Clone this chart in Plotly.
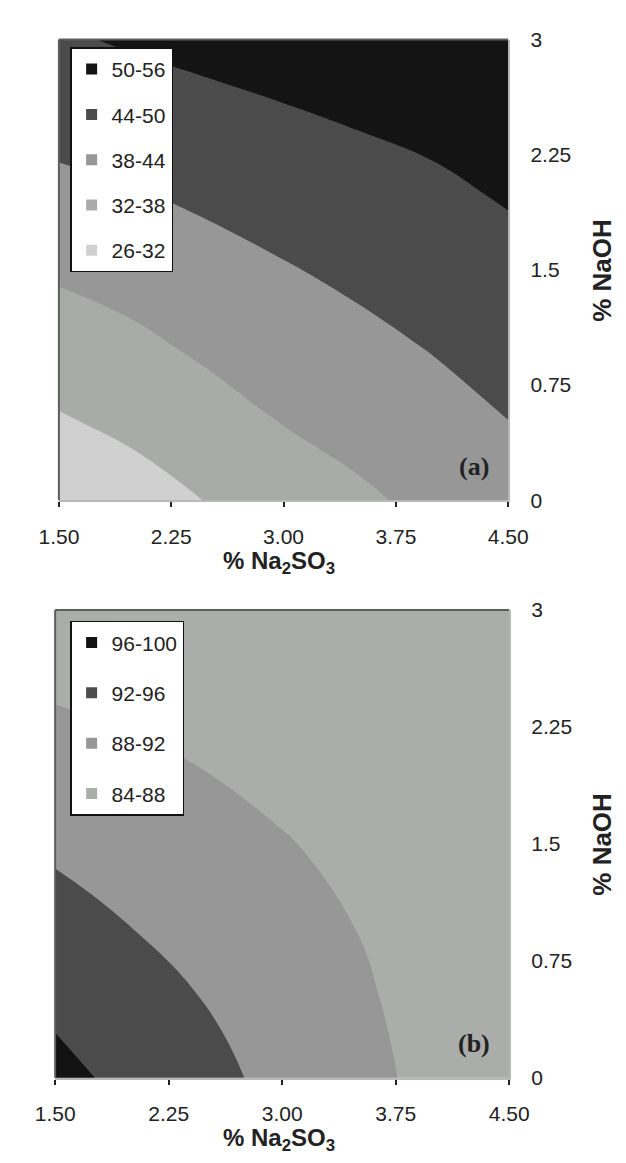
import plotly.graph_objects as go

# ---------------- data ----------------
na2so3 = [1.5, 2.0, 2.5, 3.0, 3.5, 4.0, 4.5]      # x grid (% Na2SO3)
naoh = [0, 0.5, 1.0, 1.5, 2.0, 2.5, 3.0]          # y grid (% NaOH)
x_tickvals = [1.5, 2.25, 3.0, 3.75, 4.5]
x_ticktext = ["1.50", "2.25", "3.00", "3.75", "4.50"]
y_tickvals = [0, 0.75, 1.5, 2.25, 3]
y_ticktext = ["0", "0.75", "1.5", "2.25", "3"]

# panel (a): response (rows = NaOH, cols = Na2SO3)
z_a = [
    [27.9, 29.7, 32.2, 34.8, 37.1, 39.3, 41.6],
    [31.4, 33.2, 35.7, 38.1, 39.8, 41.8, 43.9],
    [35.1, 36.8, 39.0, 40.8, 42.5, 44.3, 46.1],
    [38.8, 40.3, 42.0, 43.6, 45.2, 46.7, 48.3],
    [42.6, 43.7, 45.1, 46.6, 47.8, 49.0, 50.5],
    [46.1, 47.2, 48.4, 49.5, 50.5, 51.4, 52.4],
    [49.4, 50.6, 51.6, 52.4, 53.1, 53.9, 54.7],
]
levels_a = [26, 32, 38, 44, 50, 56]
labels_a = ["26-32", "32-38", "38-44", "44-50", "50-56"]
colors_a = ["#d0d0d0", "#a9aba9", "#979797", "#4b4b4b", "#141414"]

# panel (b)
z_b = [
    [97.1, 95.0, 93.0, 91.0, 89.0, 87.1, 85.5],
    [95.2, 93.4, 91.9, 90.1, 88.5, 86.8, 85.3],
    [93.3, 91.9, 90.6, 89.2, 87.9, 86.4, 85.0],
    [91.4, 90.3, 89.2, 88.2, 87.2, 85.9, 84.7],
    [89.5, 88.7, 87.9, 87.1, 86.4, 85.3, 84.4],
    [87.6, 87.1, 86.5, 85.9, 85.5, 84.8, 84.2],
    [85.7, 85.4, 85.0, 85.0, 84.7, 84.3, 84.05],
]
levels_b = [84, 88, 92, 96, 100]
labels_b = ["84-88", "88-92", "92-96", "96-100"]
colors_b = ["#abadab", "#979797", "#4b4b4b", "#121212"]

panel_labels = ["(a)", "(b)"]
x_title = "<b>% Na<sub>2</sub>SO<sub>3</sub></b>"
y_title = "<b>% NaOH</b>"

W, H = 626, 1163
FONT = "Arial, Liberation Sans, sans-serif"

# pixel geometry of the two panels (left, right, top, bottom)
panels = [(33, 513, 20, 490), (29, 514, 602, 1079)]


def band_scale(colors):
    regs = [colors[0]] + colors + [colors[-1]]
    n = len(regs) - 1
    return [[i / n, c] for i, c in enumerate(regs)]


fig = go.Figure()

datasets = [
    (z_a, levels_a, labels_a, colors_a, "x", "y", "legend"),
    (z_b, levels_b, labels_b, colors_b, "x2", "y2", "legend2"),
]

for z, lv, lab, col, xa, ya, lg in datasets:
    fig.add_trace(go.Contour(
        x=na2so3, y=naoh, z=z,
        autocontour=False,
        contours=dict(start=lv[0], end=lv[-1], size=lv[1] - lv[0],
                      coloring="fill", showlines=False),
        colorscale=band_scale(col),
        showscale=False,
        line=dict(width=0, smoothing=1.3),
        hoverinfo="skip",
        showlegend=False,
        xaxis=xa, yaxis=ya,
    ))
    for name, c in reversed(list(zip(lab, col))):
        fig.add_trace(go.Scatter(
            x=[None], y=[None], mode="markers",
            marker=dict(symbol="square", size=11, color=c),
            name=name, legend=lg, legendgroup=name,
            xaxis=xa, yaxis=ya,
        ))

layout = dict(
    width=W, height=H,
    margin=dict(l=0, r=0, t=0, b=0),
    paper_bgcolor="white", plot_bgcolor="white",
    font=dict(family=FONT, color="#222", size=20),
    showlegend=True,
)

shapes = []
annotations = []
for i, (l, r, t, b) in enumerate(panels):
    sfx = "" if i == 0 else str(i + 1)
    tick_sfx = str(i + 3)          # tick-only overlay axis
    xd = [l / W, r / W]
    yd = [1 - b / H, 1 - t / H]
    layout["xaxis" + sfx] = dict(
        domain=xd, range=[1.5, 4.5], anchor="y" + sfx,
        tickvals=x_tickvals, ticktext=x_ticktext,
        ticks="outside", ticklen=5, tickwidth=1.5, tickcolor="#222",
        ticklabelstandoff=11,
        showline=True, linecolor="#b8b8b8", linewidth=2,
        showgrid=False, zeroline=False,
        tickfont=dict(size=21, family=FONT, color="#222"),
    )
    # label axis: invisible long ticks push the labels away from the frame
    layout["yaxis" + sfx] = dict(
        domain=yd, range=[0, 3], anchor="x" + sfx, side="right",
        tickvals=y_tickvals, ticktext=y_ticktext,
        ticks="outside", ticklen=16, tickwidth=1, tickcolor="rgba(0,0,0,0)",
        showline=True, linecolor="#b8b8b8", linewidth=2,
        showgrid=False, zeroline=False,
        tickfont=dict(size=21, family=FONT, color="#222"),
    )
    # visible short tick marks
    layout["yaxis" + tick_sfx] = dict(
        overlaying="y" + sfx, anchor="x" + sfx, side="right", range=[0, 3],
        tickvals=y_tickvals, showticklabels=False,
        ticks="outside", ticklen=5, tickwidth=1.5, tickcolor="#222",
        showline=False, showgrid=False, zeroline=False,
    )
    xr = "x" + sfx + " domain"
    yr = "y" + sfx + " domain"
    shapes.append(dict(type="line", xref=xr, yref=yr, x0=0, x1=1, y0=1, y1=1,
                       line=dict(color="#5e5e5e", width=2)))
    shapes.append(dict(type="line", xref=xr, yref=yr, x0=0, x1=0, y0=0, y1=1,
                       line=dict(color="#5e5e5e", width=2)))
    # panel letter
    annotations.append(dict(text="<b>" + panel_labels[i] + "</b>",
                            xref="paper", yref="paper",
                            x=476 / W, y=1 - (b - 35) / H,
                            xanchor="center", yanchor="middle", showarrow=False,
                            font=dict(family="Liberation Serif, Times New Roman, serif",
                                      size=26, color="#222")))
    # x title
    annotations.append(dict(text=x_title, xref="paper", yref="paper",
                            x=268 / W, y=1 - (b + 63) / H,
                            xanchor="center", yanchor="middle", showarrow=False,
                            font=dict(family=FONT, size=24, color="#222")))
    # y title
    annotations.append(dict(text=y_title, xref="paper", yref="paper",
                            x=613 / W, y=1 - ((t + b) / 2) / H,
                            xanchor="center", yanchor="middle", showarrow=False,
                            textangle=-90,
                            font=dict(family=FONT, size=26, color="#222")))

legend_common = dict(
    bgcolor="white", bordercolor="#111", borderwidth=1.5,
    font=dict(size=21, family=FONT, color="#222"),
    xanchor="left", yanchor="top", traceorder="grouped",
    itemclick=False, itemdoubleclick=False,
)
layout["legend"] = dict(legend_common, x=45 / W, y=1 - 28 / H, tracegroupgap=15)
layout["legend2"] = dict(legend_common, x=45 / W, y=1 - 613 / H, tracegroupgap=20)
layout["shapes"] = shapes
layout["annotations"] = annotations

fig.update_layout(**layout)
fig.write_html("out.html")
